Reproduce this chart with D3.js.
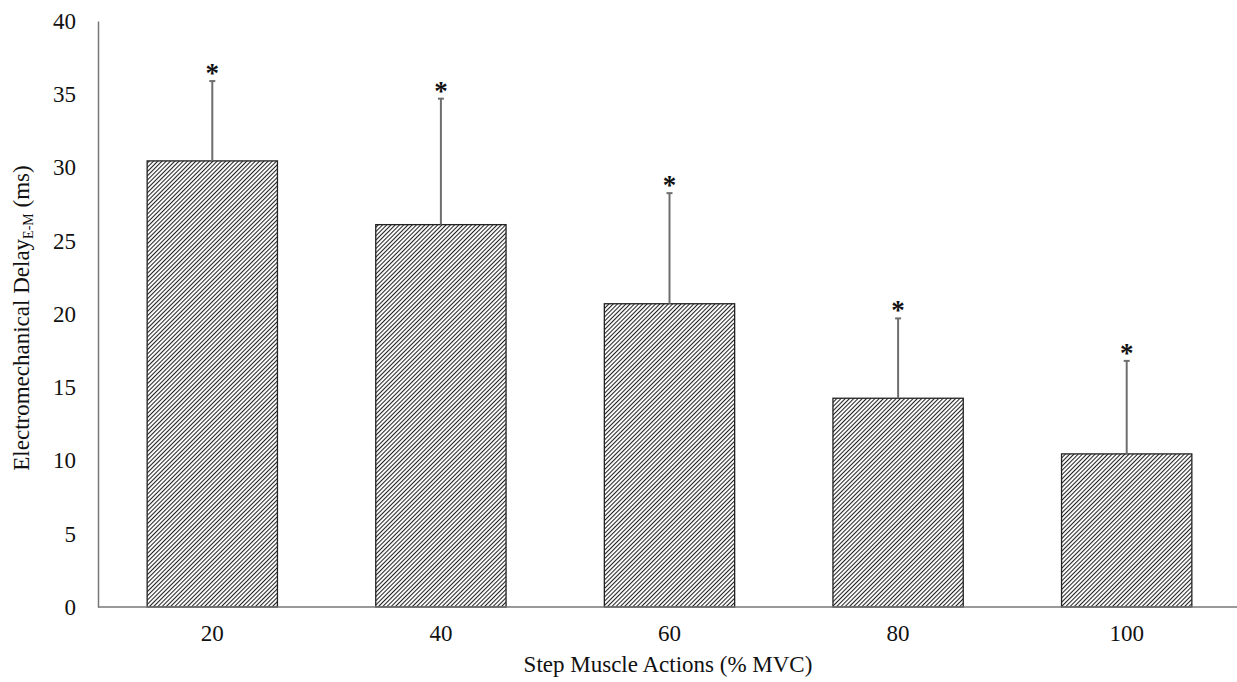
<!DOCTYPE html>
<html>
<head>
<meta charset="utf-8">
<script src="https://cdn.jsdelivr.net/npm/d3@7"></script>
<style>
  body { margin: 0; background: #fff; }
  text { font-family: "Liberation Serif", "Times New Roman", serif; fill: #111; }
</style>
</head>
<body>
<div id="chart"></div>
<script>
// data
var categories = ["20", "40", "60", "80", "100"];
var means = [30.45, 26.1, 20.7, 14.25, 10.45];
var sds = [5.45, 8.6, 7.55, 5.45, 6.35];
var stars = ["*", "*", "*", "*", "*"];
var yTicks = [0, 5, 10, 15, 20, 25, 30, 35, 40];

var width = 1237, height = 682;
var margin = {top: 21, right: 0, bottom: 75, left: 98};

var svg = d3.select("#chart").append("svg")
    .attr("width", width)
    .attr("height", height);

// hatch fill
var defs = svg.append("defs");
var pat = defs.append("pattern")
    .attr("id", "hatch")
    .attr("patternUnits", "userSpaceOnUse")
    .attr("width", 3)
    .attr("height", 3)
    .attr("patternTransform", "rotate(45)");
pat.append("rect").attr("width", 3).attr("height", 3).attr("fill", "#fff");
pat.append("line")
    .attr("x1", 0.5).attr("y1", 0)
    .attr("x2", 0.5).attr("y2", 3)
    .attr("stroke", "#222")
    .attr("stroke-width", 1.1);

var x = d3.scaleBand()
    .domain(categories)
    .range([margin.left, margin.left + 1143])
    .paddingInner(0.43)
    .paddingOuter(0.215);

var y = d3.scaleLinear()
    .domain([0, 40])
    .range([height - margin.bottom, margin.top]);

// y axis
var yAxis = svg.append("g")
    .attr("transform", "translate(" + margin.left + ",0)")
    .call(d3.axisLeft(y).tickValues(yTicks).tickSize(0).tickPadding(22));
yAxis.select(".domain").attr("stroke", "#777").attr("stroke-width", 1.5);
yAxis.selectAll("text")
    .style("font-size", "23px")
    .style("font-family", "Liberation Serif, serif")
    .attr("fill", "#111");

// bars
svg.selectAll("rect.bar")
    .data(means)
    .enter()
    .append("rect")
    .attr("class", "bar")
    .attr("x", function(d, i) { return x(categories[i]); })
    .attr("y", function(d) { return y(d); })
    .attr("width", x.bandwidth())
    .attr("height", function(d) { return y(0) - y(d); })
    .attr("fill", "url(#hatch)")
    .attr("stroke", "#222")
    .attr("stroke-width", 1.3);

// error bars (upper only)
var cx = function(i) { return x(categories[i]) + x.bandwidth() / 2; };
svg.selectAll("line.err")
    .data(means)
    .enter()
    .append("line")
    .attr("class", "err")
    .attr("x1", function(d, i) { return cx(i); })
    .attr("x2", function(d, i) { return cx(i); })
    .attr("y1", function(d) { return y(d); })
    .attr("y2", function(d, i) { return y(d + sds[i]); })
    .attr("stroke", "#6e6e6e")
    .attr("stroke-width", 2);

svg.selectAll("line.cap")
    .data(means)
    .enter()
    .append("line")
    .attr("class", "cap")
    .attr("x1", function(d, i) { return cx(i) - 3; })
    .attr("x2", function(d, i) { return cx(i) + 3; })
    .attr("y1", function(d, i) { return y(d + sds[i]); })
    .attr("y2", function(d, i) { return y(d + sds[i]); })
    .attr("stroke", "#6e6e6e")
    .attr("stroke-width", 2);

// significance asterisks
svg.selectAll("text.star")
    .data(means)
    .enter()
    .append("text")
    .attr("class", "star")
    .attr("x", function(d, i) { return cx(i); })
    .attr("y", function(d, i) { return y(d + sds[i]) + 1; })
    .attr("text-anchor", "middle")
    .style("font-size", "27px")
    .style("font-weight", "bold")
    .text(function(d, i) { return stars[i]; });

// x axis
var xAxis = svg.append("g")
    .attr("transform", "translate(0," + y(0) + ")")
    .call(d3.axisBottom(x).tickSize(0).tickPadding(18).tickSizeOuter(0));
xAxis.select(".domain")
    .attr("d", "M" + margin.left + ",0H" + width)
    .attr("stroke", "#777").attr("stroke-width", 1.5);
xAxis.selectAll("text")
    .style("font-size", "23px")
    .style("font-family", "Liberation Serif, serif")
    .attr("fill", "#111");

// axis titles
svg.append("text")
    .attr("x", 668)
    .attr("y", 672)
    .attr("text-anchor", "middle")
    .style("font-size", "23px")
    .text("Step Muscle Actions (% MVC)");

var yt = svg.append("text")
    .attr("transform", "translate(29,318)rotate(-90)")
    .attr("text-anchor", "middle")
    .style("font-size", "23px");
yt.append("tspan").text("Electromechanical Delay");
yt.append("tspan").attr("dy", 4).style("font-size", "14px").text("E-M");
yt.append("tspan").attr("dy", -4).text(" (ms)");
</script>
</body>
</html>
